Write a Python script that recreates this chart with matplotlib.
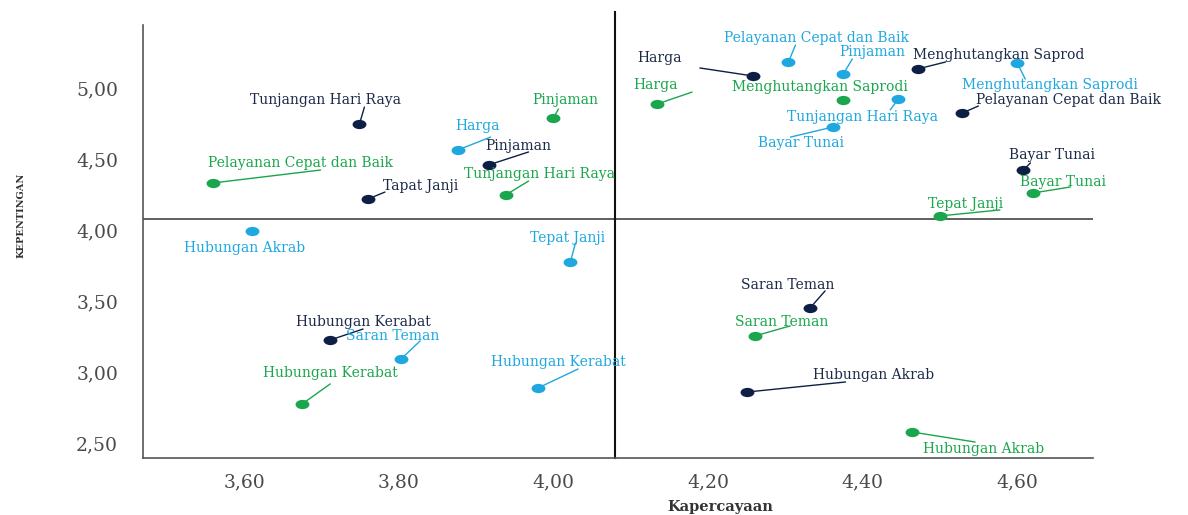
import matplotlib
matplotlib.use("Agg")
import matplotlib.pyplot as plt
from matplotlib.path import Path
from matplotlib.transforms import Affine2D
from matplotlib.ticker import FixedLocator, FuncFormatter

# ---------------- data ----------------
categories = ["Tunjangan Hari Raya", "Tepat Janji", "Pinjaman", "Harga",
              "Menghutangkan Saprodi", "Pelayanan Cepat dan Baik", "Bayar Tunai",
              "Saran Teman", "Hubungan Akrab", "Hubungan Kerabat"]

navy_x = [3.749, 3.760, 3.916, 4.258, 4.471, 4.529, 4.608, 4.332, 4.251, 3.711]
navy_y = [4.746, 4.218, 4.458, 5.085, 5.134, 4.824, 4.423, 3.451, 2.859, 3.225]
navy_labels = ["Tunjangan Hari Raya", "Tapat Janji", "Pinjaman", "Harga",
               "Menghutangkan Saprod", "Pelayanan Cepat dan Baik", "Bayar Tunai",
               "Saran Teman", "Hubungan Akrab", "Hubungan Kerabat"]

blue_x = [4.446, 4.022, 4.375, 3.876, 4.600, 4.304, 4.361, 3.803, 3.610, 3.980]
blue_y = [4.923, 3.775, 5.099, 4.563, 5.176, 5.183, 4.725, 3.092, 3.993, 2.887]
blue_labels = ["Tunjangan Hari Raya", "Tepat Janji", "Pinjaman", "Harga",
               "Menghutangkan Saprodi", "Pelayanan Cepat dan Baik", "Bayar Tunai",
               "Saran Teman", "Hubungan Akrab", "Hubungan Kerabat"]

green_x = [3.938, 4.500, 4.000, 4.134, 4.375, 3.559, 4.621, 4.261, 4.464, 3.675]
green_y = [4.246, 4.099, 4.789, 4.887, 4.915, 4.331, 4.261, 3.254, 2.577, 2.775]
green_labels = ["Tunjangan Hari Raya", "Tepat Janji", "Pinjaman", "Harga",
                "Menghutangkan Saprodi", "Pelayanan Cepat dan Baik", "Bayar Tunai",
                "Saran Teman", "Hubungan Akrab", "Hubungan Kerabat"]

mean_x = 4.08
mean_y = 4.08

x_ticks = [3.60, 3.80, 4.00, 4.20, 4.40, 4.60]
y_ticks = [2.50, 3.00, 3.50, 4.00, 4.50, 5.00]

# ---------------- layout (label offsets in pixels: text centre, connector end) ----------------
navy_text_off = [(-34, 24), (53, 13), (30, 19), (-93, 18), (81, 14), (106, 13),
                 (29, 15), (-22, 23), (126, 17), (33, 18)]
navy_line_off = [(5, 17), (17, 7), (40, 13), (-53, 8), (28, 7), (16, 7),
                 (7, 7), (15, 17), (98, 10), (33, 11)]

blue_text_off = [(-36, -18), (-3, 24), (29, 22), (20, 24), (33, -22), (28, 24),
                 (-32, -16), (-8, 23), (-7, -17), (20, 26)]
blue_line_off = [(-8, -11), (5, 19), (9, 15), (33, 13), (8, -16), (7, 17),
                 (-42, -10), (19, 18), (0, 0), (40, 19)]

green_text_off = [(34, 21), (26, 12), (12, 18), (-2, 19), (-23, 13), (88, 20),
                  (30, 11), (26, 14), (71, -17), (28, 31)]
green_line_off = [(23, 14), (60, 6), (5, 9), (35, 12), (0, 0), (108, 13),
                  (37, 6), (35, 10), (63, -10), (28, 20)]

NAVY = "#0d1f45"
BLUE = "#1fa8e0"
GREEN = "#1aa64c"
NAVY_TXT = "#1c2a48"

fig = plt.figure(figsize=(11.88, 5.15), dpi=100)
ax = fig.add_axes([143 / 1188, 1 - 458 / 515, (1093 - 143) / 1188, (458 - 25) / 515])
ax.set_xlim(3.469, 4.698)
ax.set_ylim(2.394, 5.444)

for s in ["top", "right"]:
    ax.spines[s].set_visible(False)
for s in ["left", "bottom"]:
    ax.spines[s].set_color("#555555")
    ax.spines[s].set_linewidth(1.2)

ax.xaxis.set_major_locator(FixedLocator(x_ticks))
ax.yaxis.set_major_locator(FixedLocator(y_ticks))
fmt = FuncFormatter(lambda v, p: f"{v:.2f}".replace(".", ","))
ax.xaxis.set_major_formatter(fmt)
ax.yaxis.set_major_formatter(fmt)
ax.tick_params(axis="both", length=0, labelsize=13.5, labelcolor="#4a4a4a")
ax.tick_params(axis="x", pad=11)
ax.tick_params(axis="y", pad=18)
for lab in ax.get_xticklabels() + ax.get_yticklabels():
    lab.set_family("DejaVu Serif")

# mean reference lines
ax.axhline(mean_y, xmin=0, xmax=1, color="#444444", lw=1.2, zorder=1)
ax.axvline(mean_x, ymin=0, ymax=1.03, color="#111111", lw=1.5, zorder=1, clip_on=False)

ellipse = Path.unit_circle().transformed(Affine2D().scale(1.5, 1.0))

def draw_series(xs, ys, labels, toff, loff, color, tcolor):
    ax.plot(xs, ys, linestyle="none", marker=ellipse, markersize=10,
            color=color, markeredgewidth=0, zorder=3)
    for x, y, lab, (tx, ty), (lx, ly) in zip(xs, ys, labels, toff, loff):
        if (lx, ly) != (0, 0):
            ax.annotate("", xy=(x, y), xytext=(lx, ly), textcoords="offset pixels",
                        arrowprops=dict(arrowstyle="-", color=color, lw=1.0,
                                        shrinkA=0, shrinkB=0), zorder=2)
        ax.annotate(lab, xy=(x, y), xytext=(tx, ty), textcoords="offset pixels",
                    ha="center", va="center", fontsize=10, color=tcolor,
                    family="DejaVu Serif", annotation_clip=False, zorder=4)

draw_series(navy_x, navy_y, navy_labels, navy_text_off, navy_line_off, NAVY, NAVY_TXT)
draw_series(blue_x, blue_y, blue_labels, blue_text_off, blue_line_off, BLUE, BLUE)
draw_series(green_x, green_y, green_labels, green_text_off, green_line_off, GREEN, GREEN)

ax.set_xlabel("Kapercayaan", family="DejaVu Serif", fontsize=10.5,
              fontweight="bold", color="#333333")
ax.xaxis.set_label_coords((720 - 143) / 950, -(500 - 458) / 433)
ax.set_ylabel("KEPENTINGAN", family="DejaVu Serif", fontsize=7,
              fontweight="bold", color="#333333")
ax.yaxis.set_label_coords(-(143 - 26) / 950, (458 - 215) / 433)

fig.savefig("out.png", dpi=100)
